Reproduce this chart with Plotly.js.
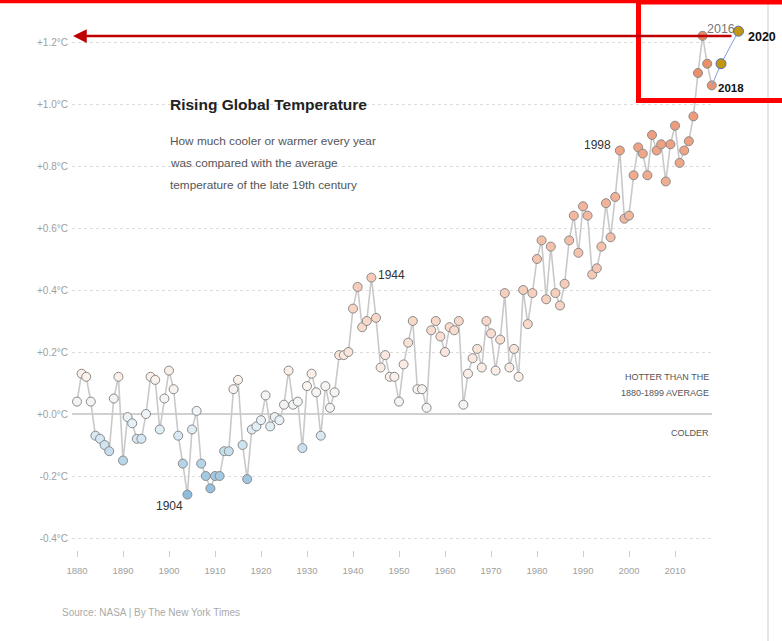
<!DOCTYPE html>
<html>
<head>
<meta charset="utf-8">
<script src="https://cdn.plot.ly/plotly-3.0.1.min.js"></script>
<style>
  html, body { margin: 0; padding: 0; background: #fff; }
  #chart { width: 782px; height: 641px; }
</style>
</head>
<body>
<div id="chart"></div>
<script>
// ---- data ----
const years = [];
for (let y = 1880; y <= 2018; y++) years.push(y);
const temps = [
  0.04, 0.13, 0.12, 0.04, -0.07, -0.08, -0.10, -0.12, 0.05, 0.12,   // 1880-1889
  -0.15, -0.01, -0.03, -0.08, -0.08, 0.00, 0.12, 0.11, -0.05, 0.05, // 1890-1899
  0.14, 0.08, -0.07, -0.16, -0.26, -0.05, 0.01, -0.16, -0.20, -0.24, // 1900-1909
  -0.20, -0.20, -0.12, -0.12, 0.08, 0.11, -0.10, -0.21, -0.05, -0.04, // 1910-1919
  -0.02, 0.06, -0.04, -0.01, -0.02, 0.03, 0.14, 0.03, 0.04, -0.11,  // 1920-1929
  0.09, 0.13, 0.07, -0.07, 0.09, 0.02, 0.07, 0.19, 0.19, 0.20,      // 1930-1939
  0.34, 0.41, 0.28, 0.30, 0.44, 0.31, 0.15, 0.19, 0.12, 0.12,       // 1940-1949
  0.04, 0.16, 0.23, 0.30, 0.08, 0.08, 0.02, 0.27, 0.30, 0.25,       // 1950-1959
  0.20, 0.28, 0.27, 0.30, 0.03, 0.13, 0.18, 0.21, 0.15, 0.30,       // 1960-1969
  0.26, 0.14, 0.24, 0.39, 0.15, 0.21, 0.12, 0.40, 0.29, 0.39,       // 1970-1979
  0.50, 0.56, 0.37, 0.54, 0.39, 0.35, 0.42, 0.56, 0.64, 0.52,       // 1980-1989
  0.67, 0.64, 0.45, 0.47, 0.54, 0.68, 0.57, 0.70, 0.85, 0.63,       // 1990-1999
  0.64, 0.77, 0.86, 0.84, 0.77, 0.90, 0.85, 0.87, 0.75, 0.87,       // 2000-2009
  0.93, 0.81, 0.85, 0.88, 0.96, 1.10, 1.22, 1.13, 1.06              // 2010-2018
];
// hand-added gold points (positions as drawn in the reference)
const goldYears = [2020, 2023.8];
const goldTemps = [1.13, 1.235];

const tickYears = [1880,1890,1900,1910,1920,1930,1940,1950,1960,1970,1980,1990,2000,2010];
const tickLabelsX = tickYears.map(String);
const yTickVals = [1.2, 1.0, 0.8, 0.6, 0.4, 0.2, 0.0, -0.2, -0.4];
const yTickText = ["+1.2°C","+1.0°C","+0.8°C","+0.6°C","+0.4°C","+0.2°C","+0.0°C","-0.2°C","-0.4°C"];

// ---- layout geometry helpers (pixel -> paper) ----
const W = 782, H = 641;
const M = {l: 72, r: 22, t: 30, b: 91};
const PW = W - M.l - M.r, PH = H - M.t - M.b;
const MAIN_W = 640;                 // width of the main chart area in px
const PX_PER_YEAR = 4.6;
const X0 = 1880 - 5 / PX_PER_YEAR;
const px = x => (x - M.l) / PW;
const py = y => (H - M.b - y) / PH;
const yRange = [(M.t + PH - 414) / -310, (414 - M.t) / 310];

const FONT = "'Liberation Sans', Arial, Helvetica, sans-serif";

const lastIdx = temps.length - 1;

const traces = [
  {
    x: years, y: temps, type: 'scatter', mode: 'lines+markers',
    line: {color: '#c9c9c9', width: 1.6},
    marker: {
      size: 9, color: temps, cmin: -0.3, cmax: 1.25,
      colorscale: [
        [0.000, '#7fb3d8'], [0.0645, '#a4c9e3'], [0.129, '#cfe4f1'],
        [0.1935, '#eef5f9'], [0.258, '#fbf3ee'], [0.387, '#f8d8c8'],
        [0.58, '#f3bba3'], [0.774, '#ee9f80'], [1.0, '#e6875f']
      ],
      line: {color: '#8a8a8a', width: 1}
    },
    cliponaxis: false, hoverinfo: 'x+y', showlegend: false
  },
  {
    x: [years[lastIdx]].concat(goldYears), y: [temps[lastIdx]].concat(goldTemps),
    xaxis: 'x2', yaxis: 'y2',
    type: 'scatter', mode: 'lines', line: {color: '#7f9fd6', width: 1},
    cliponaxis: false, showlegend: false, hoverinfo: 'skip'
  },
  {
    x: goldYears, y: goldTemps, xaxis: 'x2', yaxis: 'y2',
    type: 'scatter', mode: 'markers',
    marker: {size: 10, color: '#c4960e', line: {color: '#4a6fc0', width: 1}},
    cliponaxis: false, showlegend: false
  }
];

const ann = (x, y, text, o) => Object.assign({
  xref: 'paper', yref: 'paper', x: px(x), y: py(y), text: text, showarrow: false,
  font: {family: FONT, size: 12, color: '#333'}, xanchor: 'left', yanchor: 'middle'
}, o || {});

const annotations = [
  ann(168, 104, '<b>Rising Global Temperature</b>', {font: {family: FONT, size: 15.5, color: '#222'}}),
  ann(168, 141, 'How much cooler or warmer every year', {font: {family: FONT, size: 11.8, color: '#555'}}),
  ann(168, 163, 'was compared with the average', {font: {family: FONT, size: 11.8, color: '#555'}}),
  ann(168, 185, 'temperature of the late 19th century', {font: {family: FONT, size: 11.8, color: '#555'}}),
  ann(169, 506, '1904', {xanchor: 'center', font: {family: FONT, size: 12, color: '#333'}}),
  ann(376, 275, '1944', {font: {family: FONT, size: 12, color: '#333'}}),
  ann(613, 145, '1998', {xanchor: 'right', font: {family: FONT, size: 12, color: '#333'}}),
  ann(705, 29, '2016', {font: {family: FONT, size: 12.5, color: '#777'}}),
  ann(746, 37, '<b>2020</b>', {font: {family: FONT, size: 12.5, color: '#111'}}),
  ann(716, 88, '<b>2018</b>', {font: {family: FONT, size: 11.5, color: '#111'}}),
  ann(711, 377, 'HOTTER THAN THE', {xanchor: 'right', font: {family: FONT, size: 9, color: '#555'}}),
  ann(711, 393, '1880-1899 AVERAGE', {xanchor: 'right', font: {family: FONT, size: 9, color: '#555'}}),
  ann(711, 433, 'COLDER', {xanchor: 'right', font: {family: FONT, size: 9, color: '#555'}}),
  ann(60, 612, 'Source: NASA | By The New York Times', {font: {family: FONT, size: 10, color: '#aaa'}}),
  // red arrow pointing at +1.2°C
  {xref: 'paper', yref: 'paper', x: px(73), y: py(36), ax: 660, ay: 0, axref: 'pixel', ayref: 'pixel',
   text: '', showarrow: true, arrowhead: 2, arrowsize: 1.1, arrowwidth: 2.5, arrowcolor: '#c00000', standoff: 0}
];

const shapes = [
  // gray vertical frame line on the right
  {type: 'line', xref: 'paper', yref: 'paper', x0: px(768), x1: px(768), y0: py(0), y1: py(641),
   line: {color: '#cfcfcf', width: 1}},
  // red top bar
  {type: 'line', xref: 'paper', yref: 'paper', x0: px(0), x1: px(782), y0: py(1.5), y1: py(1.5),
   line: {color: '#ff0000', width: 3.5}},
  // red highlight rectangle
  {type: 'rect', xref: 'paper', yref: 'paper', x0: px(638.5), x1: px(800), y0: py(2), y1: py(100.5),
   line: {color: '#ff0000', width: 5}}
];

const layout = {
  width: W, height: H, margin: M,
  paper_bgcolor: '#fff', plot_bgcolor: 'rgba(0,0,0,0)',
  font: {family: FONT, color: '#999'},
  showlegend: false,
  xaxis: {
    domain: [0, MAIN_W / PW],
    range: [X0, X0 + MAIN_W / PX_PER_YEAR],
    tickvals: tickYears, ticktext: tickLabelsX,
    showgrid: false, zeroline: false, showline: false,
    ticks: 'outside', ticklen: 6, tickcolor: '#cfcfcf', tickwidth: 1,
    ticklabelstandoff: 6,
    tickfont: {family: FONT, size: 9.5, color: '#a0a0a0'}
  },
  yaxis: {
    range: yRange,
    tickvals: yTickVals, ticktext: yTickText,
    showgrid: true, gridcolor: '#dcdcdc', griddash: 'dot', gridwidth: 1,
    zeroline: true, zerolinecolor: '#d0d0d0', zerolinewidth: 2,
    showline: false, ticks: '', ticklabelstandoff: 3,
    tickfont: {family: FONT, size: 10, color: '#a0a0a0'}
  },
  xaxis2: {
    domain: [0, 1], anchor: 'y2', visible: false,
    range: [X0, X0 + PW / PX_PER_YEAR]
  },
  yaxis2: {
    domain: [0, 1], anchor: 'x2', visible: false, range: yRange
  },
  annotations: annotations,
  shapes: shapes
};

Plotly.newPlot('chart', traces, layout, {displayModeBar: false, staticPlot: true});
</script>
</body>
</html>
